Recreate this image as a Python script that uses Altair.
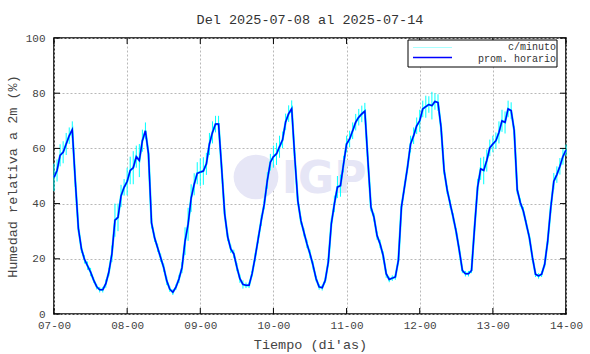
import altair as alt
import pandas as pd

# Promedio horario de humedad relativa (%), 24 valores por día (hora 00..23)
dia_07 = [49.5, 52.0, 57.5, 58.6, 61.6, 64.6, 66.8, 48.0, 31.0, 23.6, 19.8, 17.5,
          15.2, 12.3, 9.9, 8.8, 8.8, 11.0, 15.2, 21.8, 34.0, 35.0, 42.8, 45.9]
dia_08 = [48.0, 52.0, 53.0, 57.0, 55.6, 62.8, 66.4, 58.0, 33.0, 27.6, 24.0, 20.4,
          16.8, 12.0, 9.0, 7.9, 9.7, 12.7, 16.8, 26.4, 32.5, 42.0, 47.0, 51.0]
dia_09 = [51.4, 51.8, 54.4, 61.6, 65.8, 68.8, 68.8, 53.0, 36.3, 27.9, 23.6, 21.8,
          17.0, 12.8, 10.7, 10.4, 10.4, 14.6, 20.6, 27.2, 33.9, 39.9, 48.4, 55.0]
dia_10 = [57.0, 58.0, 60.6, 63.1, 69.6, 72.6, 74.4, 56.8, 41.1, 33.9, 29.6, 25.4,
          21.8, 17.6, 12.8, 9.8, 9.5, 12.2, 18.8, 32.7, 39.9, 46.0, 46.5, 54.3]
dia_11 = [61.6, 63.4, 66.4, 69.5, 71.3, 72.5, 73.5, 55.6, 38.7, 35.0, 28.4, 25.4,
          21.2, 14.6, 12.5, 13.0, 13.4, 19.4, 38.7, 46.0, 53.2, 61.6, 64.6, 68.2]
dia_12 = [70.0, 74.3, 75.1, 75.9, 75.5, 77.0, 76.6, 67.6, 52.0, 45.0, 39.9, 35.0,
          29.6, 23.0, 15.8, 14.6, 14.6, 15.8, 31.4, 46.0, 52.6, 52.0, 55.6, 60.2]
dia_13 = [61.6, 62.8, 65.8, 70.0, 69.4, 74.3, 73.7, 66.5, 45.0, 40.4, 37.3, 32.5,
          27.6, 20.4, 14.4, 13.8, 14.4, 18.0, 26.5, 38.5, 48.1, 50.5, 53.5, 57.1]
dia_14 = [59.4]

# Semi-amplitud de la variación por minuto dentro de cada hora (%)
amp_07 = [5, 4, 4, 4, 4, 3, 3, 2, 1.5, 1.5, 1.5, 1.5, 1.5, 1, 1, 1, 1, 1.5, 1.5, 3, 6, 5, 4, 3]
amp_08 = [5, 5, 6, 4, 6, 4, 3, 2, 2, 1.5, 1.5, 1.5, 1.5, 1.5, 1, 1, 1, 1.5, 2, 5, 6, 5, 4, 4]
amp_09 = [5, 5, 4, 4, 4, 3, 3, 2, 1.5, 1.5, 1.5, 1.5, 1.5, 1.5, 1.5, 1, 1, 1, 1.5, 1.5, 2, 2, 3, 3]
amp_10 = [4, 4, 4, 3, 3, 3, 3, 1.5, 1.5, 1.5, 1.5, 1.5, 1.5, 1.5, 1, 1, 1, 1, 1.5, 2, 3, 4, 4, 3]
amp_11 = [3, 3, 3, 3, 3, 3, 3, 1.5, 1.5, 1.5, 1.5, 1.5, 1.5, 1.5, 1, 1, 1, 1, 1.5, 2, 2, 3, 3, 3]
amp_12 = [4, 3, 4, 3, 5, 3, 3, 1.5, 1.5, 1.5, 1.5, 1.5, 1.5, 1.5, 1, 1, 1, 1, 1.5, 3, 4, 5, 4, 3]
amp_13 = [3, 3, 4, 4, 4, 3, 3, 1.5, 1.5, 1.5, 1.5, 1.5, 1.5, 1.5, 1, 1, 1, 1, 1.5, 2, 3, 3, 3, 3]
amp_14 = [2]

x_ticks = [0, 24, 48, 72, 96, 120, 144, 168]
y_ticks = [0, 20, 40, 60, 80, 100]

titulo = "Del 2025-07-08 al 2025-07-14"
titulo_x = "Tiempo (di'as)"
titulo_y = "Humedad relativa a 2m (%)"
serie_min = "c/minuto"
serie_hor = "prom. horario"

FONT = "Liberation Mono"
W, H = 512, 276

prom = dia_07 + dia_08 + dia_09 + dia_10 + dia_11 + dia_12 + dia_13 + dia_14
amp = amp_07 + amp_08 + amp_09 + amp_10 + amp_11 + amp_12 + amp_13 + amp_14
horas = list(range(len(prom)))

df = pd.DataFrame({"hora": horas, "hr": prom})
df["lo"] = [p - a for p, a in zip(prom, amp)]
df["hi"] = [p + a for p, a in zip(prom, amp)]

xscale = alt.Scale(domain=[0, 168], nice=False, zero=False)
yscale = alt.Scale(domain=[0, 100], nice=False)
x_axis = alt.Axis(values=x_ticks, grid=True, title=titulo_x, labelFlush=False,
                  labelExpr="(datum.value/24 + 7 < 10 ? '0' : '') + (datum.value/24 + 7) + '-00'",
                  labelPadding=5, titlePadding=7)
y_axis = alt.Axis(values=y_ticks, grid=True, title=titulo_y, labelFlush=False,
                  labelPadding=9, titlePadding=6)

X = alt.X("hora:Q", scale=xscale, axis=x_axis, title=titulo_x)

one = pd.DataFrame({"a": [0]})

logo_circle = alt.Chart(one).mark_point(shape="circle", filled=True, color="#e6e6f6", opacity=1).encode(
    x=alt.value(202), y=alt.value(139), size=alt.value(2000))
logo_text = alt.Chart(one).mark_text(text="IGP", font="DejaVu Sans", fontWeight="bold", fontSize=44,
                                     color="#e6e6f6", align="center", baseline="alphabetic").encode(
    x=alt.value(270), y=alt.value(155))

cyan_rules = alt.Chart(df).mark_rule(color="#00ffff", strokeWidth=1).encode(
    x=X, y=alt.Y("lo:Q", scale=yscale, axis=y_axis, title=titulo_y), y2="hi:Q")
cyan_line = alt.Chart(df).mark_line(color="#00ffff", strokeWidth=2.2).encode(
    x=X, y=alt.Y("hr:Q", scale=yscale, axis=y_axis, title=titulo_y))
blue_line = alt.Chart(df).mark_line(color="#0000ff", strokeWidth=1.5).encode(
    x=X, y=alt.Y("hr:Q", scale=yscale, axis=y_axis, title=titulo_y))

yt = pd.DataFrame({"v": y_ticks})
xt = pd.DataFrame({"hora": x_ticks})
Yt = alt.Y("v:Q", scale=yscale, axis=y_axis, title=titulo_y)
tick_l = alt.Chart(yt).mark_rule(color="#000", strokeWidth=1).encode(y=Yt, x=alt.value(0), x2=alt.value(6))
tick_r = alt.Chart(yt).mark_rule(color="#000", strokeWidth=1).encode(y=Yt, x=alt.value(W - 6), x2=alt.value(W))
tick_b = alt.Chart(xt).mark_rule(color="#000", strokeWidth=1).encode(x=X, y=alt.value(H - 6), y2=alt.value(H))
tick_t = alt.Chart(xt).mark_rule(color="#000", strokeWidth=1).encode(x=X, y=alt.value(0), y2=alt.value(6))

leg_box = alt.Chart(one).mark_rect(fill="white", stroke="#000", strokeWidth=1).encode(
    x=alt.value(354), x2=alt.value(503), y=alt.value(2), y2=alt.value(29))
leg_l1 = alt.Chart(one).mark_rule(color="#aaffff", strokeWidth=1.2).encode(
    x=alt.value(359), x2=alt.value(398), y=alt.value(9.5))
leg_l2 = alt.Chart(one).mark_rule(color="#0000ff", strokeWidth=1.5).encode(
    x=alt.value(359), x2=alt.value(398), y=alt.value(19.5))
leg_t1 = alt.Chart(one).mark_text(text=serie_min, font=FONT, fontSize=10, color="#333",
                                  align="right", baseline="middle").encode(x=alt.value(502), y=alt.value(9))
leg_t2 = alt.Chart(one).mark_text(text=serie_hor, font=FONT, fontSize=10, color="#333",
                                  align="right", baseline="middle").encode(x=alt.value(502), y=alt.value(20.5))

chart = alt.layer(
    logo_circle, logo_text, cyan_rules, cyan_line, blue_line,
    tick_l, tick_r, tick_b, tick_t,
    leg_box, leg_l1, leg_l2, leg_t1, leg_t2,
).properties(
    width=W, height=H,
    title=alt.TitleParams(titulo, font=FONT, fontSize=13.5, fontWeight="normal", color="#333", offset=6),
    padding={"left": 54, "top": 38, "right": 24, "bottom": 40},
    autosize=alt.AutoSizeParams(type="none"),
).configure_view(
    stroke="#000", strokeWidth=1.6
).configure_axis(
    labelFont=FONT, labelFontSize=11, labelColor="#444",
    titleFont=FONT, titleFontSize=13.5, titleFontWeight="normal", titleColor="#444",
    domain=False, ticks=False,
    gridColor="#b8b8b8", gridDash=[2, 2], gridWidth=1,
)

chart.save("out.html", embed_options={"renderer": "svg", "actions": False})
